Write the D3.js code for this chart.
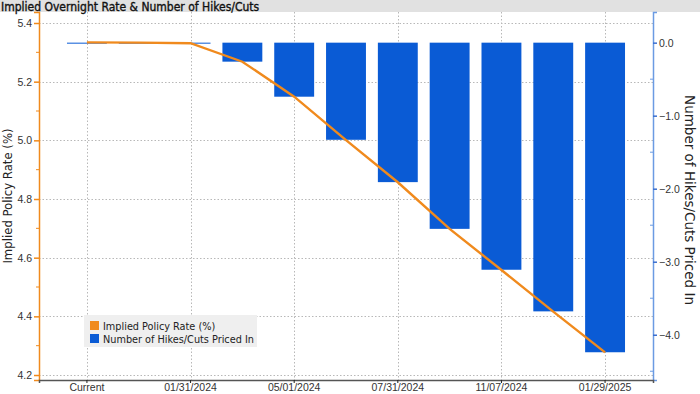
<!DOCTYPE html>
<html lang="en">
<head>
<meta charset="utf-8">
<title>Implied Overnight Rate & Number of Hikes/Cuts</title>
<script src="https://d3js.org/d3.v7.min.js"></script>
<style>
  body { margin: 0; background: #fff; }
  svg { display: block; font-family: "DejaVu Sans Condensed", "DejaVu Sans", sans-serif; }
  .grid line { stroke: #b8b8b8; stroke-dasharray: 1.5 2; }
  .tick text { fill: #333; font-size: 10.5px; }
</style>
</head>
<body>
<script>
// meeting dates on the x axis
const categories = ["Current", "12/13/2023", "01/31/2024", "03/20/2024", "05/01/2024", "06/12/2024",
                    "07/31/2024", "09/18/2024", "11/07/2024", "12/18/2024", "01/29/2025"];
const xTickLabels = ["Current", "01/31/2024", "05/01/2024", "07/31/2024", "11/07/2024", "01/29/2025"];

// implied policy rate (%), left axis
const impliedRate = [5.334, 5.333, 5.331, 5.268, 5.149, 5.001, 4.857, 4.698, 4.558, 4.416, 4.277];
// number of hikes/cuts priced in, right axis
const hikesCuts = [0, 0, 0, -0.26, -0.74, -1.33, -1.91, -2.55, -3.11, -3.68, -4.24];

const leftTicks = [5.4, 5.2, 5.0, 4.8, 4.6, 4.4, 4.2];
const rightTicks = [0, -1, -2, -3, -4];

const W = 700, H = 394;
const plot = {left: 39, right: 653, top: 12, bottom: 380};
const orange = "#f08a1d", blue = "#0a5bd5";

const svg = d3.select("body").append("svg").attr("width", W).attr("height", H);

// title band
svg.append("rect").attr("x", 0).attr("y", 0).attr("width", W).attr("height", plot.top)
   .attr("fill", "#e1e1e1");
svg.append("text").attr("x", 1).attr("y", 10.5)
   .attr("font-size", "12px").attr("fill", "#111")
   .attr("stroke", "#111").attr("stroke-width", 0.35)
   .text("Implied Overnight Rate & Number of Hikes/Cuts");

const x = d3.scaleBand().domain(categories)
            .range([plot.left, plot.right])
            .paddingInner(0.23).paddingOuter(0.54);
const xc = d => x(d) + x.bandwidth() / 2;

const yL = d3.scaleLinear().domain([4.183, 5.4375]).range([plot.bottom, plot.top]);
const yR = d3.scaleLinear().domain([-4.62, 0.42]).range([plot.bottom, plot.top]);

// grid
const grid = svg.append("g").attr("class", "grid");
grid.selectAll(".h").data(leftTicks).join("line")
    .attr("x1", plot.left).attr("x2", plot.right)
    .attr("y1", d => Math.round(yL(d)) + 0.5).attr("y2", d => Math.round(yL(d)) + 0.5);
grid.selectAll(".v").data(xTickLabels).join("line")
    .attr("x1", d => Math.round(xc(d)) + 0.5).attr("x2", d => Math.round(xc(d)) + 0.5)
    .attr("y1", plot.top).attr("y2", plot.bottom);

// bars
svg.append("g").selectAll("rect").data(categories).join("rect")
   .attr("x", d => x(d))
   .attr("width", x.bandwidth())
   .attr("y", (d, i) => yR(Math.max(0, hikesCuts[i])))
   .attr("height", (d, i) => Math.max(1, Math.abs(yR(hikesCuts[i]) - yR(0))))
   .attr("fill", blue);

// line
const line = d3.line().x((d, i) => xc(categories[i])).y(d => yL(d));
svg.append("path").datum(impliedRate)
   .attr("d", line).attr("fill", "none")
   .attr("stroke", orange).attr("stroke-width", 2.4);

// left axis
const axL = svg.append("g").attr("transform", `translate(${plot.left},0)`)
   .call(d3.axisLeft(yL).tickValues(leftTicks).tickFormat(d3.format(".1f")).tickSize(5).tickPadding(2));
axL.select(".domain").attr("stroke", orange).attr("stroke-width", 1.5);
axL.selectAll(".tick line").attr("stroke", orange).attr("stroke-width", 1.5);
axL.append("g").selectAll("line").data(d3.range(4.3, 5.4, 0.2)).join("line")
   .attr("x1", -3).attr("x2", 0)
   .attr("y1", d => yL(d)).attr("y2", d => yL(d))
   .attr("stroke", orange);

// right axis
const axR = svg.append("g").attr("transform", `translate(${plot.right},0)`)
   .call(d3.axisRight(yR).tickValues(rightTicks).tickFormat(d3.format(".1f")).tickSize(4).tickPadding(2));
axR.select(".domain").attr("stroke", "#6b9be3").attr("stroke-width", 1.5);
axR.selectAll(".tick line").attr("stroke", "#3a6fd0").attr("stroke-width", 1.5);
axR.append("g").selectAll("line").data(d3.range(-4.5, 0.1, 1)).join("line")
   .attr("x1", -3).attr("x2", 0)
   .attr("y1", d => yR(d)).attr("y2", d => yR(d))
   .attr("stroke", "#6b9be3");

// bottom axis
const axB = svg.append("g").attr("transform", `translate(0,${plot.bottom})`)
   .call(d3.axisBottom(x).tickValues(xTickLabels).tickSize(3).tickPadding(1));
axB.select(".domain").attr("stroke", "#555").attr("stroke-width", 1.5);
axB.selectAll(".tick line").attr("stroke", "#222");

// axis titles, centred on the axes
const midY = (plot.top + plot.bottom) / 2;
svg.append("text")
   .attr("transform", `translate(12,${midY}) rotate(-90)`)
   .attr("text-anchor", "middle").attr("font-size", "13px").attr("fill", "#222")
   .text("Implied Policy Rate (%)");
svg.append("text")
   .attr("transform", `translate(685,${midY + 4}) rotate(90)`)
   .attr("text-anchor", "middle").attr("font-family", "DejaVu Sans, sans-serif")
   .attr("font-size", "13.5px").attr("fill", "#222")
   .text("Number of Hikes/Cuts Priced In");

// legend
const legendItems = [
  {label: "Implied Policy Rate (%)", color: orange},
  {label: "Number of Hikes/Cuts Priced In", color: blue}
];
const lg = svg.append("g").attr("transform", "translate(84,315)");
lg.append("rect").attr("width", 173).attr("height", 32).attr("fill", "#efefef");
const li = lg.selectAll("g").data(legendItems).join("g")
   .attr("transform", (d, i) => `translate(6,${6 + i * 13})`);
li.append("rect").attr("width", 9).attr("height", 9).attr("fill", d => d.color);
li.append("text").attr("x", 13).attr("y", 8.5)
  .attr("font-size", "10.8px").attr("fill", "#222").text(d => d.label);
</script>
</body>
</html>
